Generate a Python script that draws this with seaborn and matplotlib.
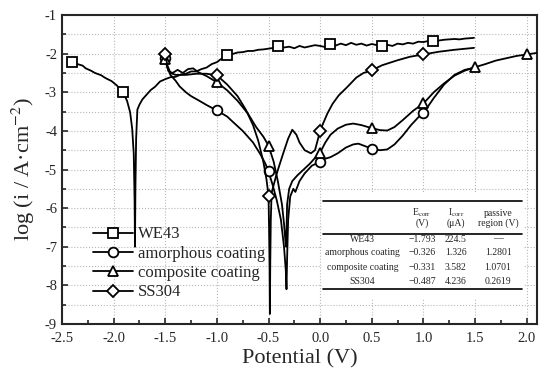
import matplotlib
matplotlib.use("Agg")
import matplotlib.pyplot as plt
import seaborn as sns
import pandas as pd
from matplotlib.ticker import MultipleLocator
from matplotlib.patches import Rectangle

# polarization curves, potential (V) vs log current density
we43_x = [-2.40, -2.35, -2.30, -2.27, -2.22, -2.18, -2.12, -2.08, -2.02, -1.97,
          -1.91, -1.87, -1.84, -1.82, -1.805, -1.797, -1.793, -1.789, -1.782, -1.77,
          -1.75, -1.72, -1.68, -1.64, -1.60, -1.55, -1.50, -1.45, -1.40, -1.35,
          -1.30, -1.25, -1.20, -1.15, -1.10, -1.05, -1.00, -0.95, -0.90, -0.85,
          -0.80, -0.75, -0.70, -0.65, -0.60, -0.55, -0.50, -0.45, -0.41, -0.35,
          -0.30, -0.25, -0.20, -0.15, -0.10, -0.05, 0.00, 0.05, 0.10, 0.15,
          0.20, 0.25, 0.30, 0.35, 0.40, 0.45, 0.50, 0.55, 0.60, 0.65,
          0.70, 0.75, 0.80, 0.85, 0.90, 0.95, 1.00, 1.05, 1.09, 1.15,
          1.20, 1.25, 1.30, 1.35, 1.40, 1.45, 1.49]
we43_y = [-2.22, -2.27, -2.31, -2.38, -2.44, -2.50, -2.56, -2.63, -2.71, -2.82,
          -3.00, -3.22, -3.52, -3.95, -4.60, -5.80, -7.00, -5.50, -4.20, -3.45,
          -3.32, -3.18, -3.06, -2.94, -2.86, -2.72, -2.66, -2.61, -2.60, -2.54,
          -2.52, -2.46, -2.46, -2.40, -2.36, -2.27, -2.22, -2.12, -2.04, -2.01,
          -1.97, -1.96, -1.93, -1.93, -1.90, -1.89, -1.87, -1.85, -1.80, -1.84,
          -1.82, -1.86, -1.80, -1.84, -1.81, -1.78, -1.80, -1.83, -1.76, -1.79,
          -1.74, -1.78, -1.72, -1.77, -1.74, -1.79, -1.75, -1.78, -1.80, -1.77,
          -1.80, -1.74, -1.76, -1.72, -1.74, -1.69, -1.70, -1.67, -1.67, -1.66,
          -1.64, -1.63, -1.62, -1.63, -1.61, -1.60, -1.59]
we43_marks = [0, 10, 38, 48, 58, 68, 78]

amor_x = [-1.50, -1.48, -1.45, -1.40, -1.36, -1.30, -1.25, -1.17, -1.10, -1.00,
          -0.90, -0.84, -0.75, -0.65, -0.58, -0.53, -0.50, -0.46, -0.42, -0.38,
          -0.35, -0.333, -0.326, -0.32, -0.31, -0.29, -0.26, -0.24, -0.20, -0.15,
          -0.08, 0.00, 0.05, 0.10, 0.17, 0.25, 0.32, 0.37, 0.42, 0.50,
          0.58, 0.65, 0.72, 0.80, 0.88, 0.95, 1.00, 1.10, 1.20, 1.30,
          1.40, 1.50]
amor_y = [-2.10, -2.35, -2.55, -2.70, -2.85, -3.00, -3.10, -3.22, -3.33, -3.47,
          -3.63, -3.78, -4.00, -4.30, -4.60, -4.85, -5.05, -5.40, -5.80, -6.30,
          -7.00, -7.60, -8.10, -7.30, -6.30, -5.70, -5.50, -5.58, -5.30, -5.10,
          -4.90, -4.80, -4.72, -4.68, -4.58, -4.43, -4.35, -4.33, -4.38, -4.46,
          -4.50, -4.48, -4.35, -4.12, -3.85, -3.65, -3.54, -3.15, -2.80, -2.55,
          -2.42, -2.36]
amor_marks = [0, 9, 16, 31, 39, 46]

comp_x = [-1.50, -1.47, -1.43, -1.38, -1.33, -1.28, -1.23, -1.18, -1.10, -1.00,
          -0.90, -0.80, -0.70, -0.62, -0.55, -0.50, -0.45, -0.41, -0.37, -0.35,
          -0.338, -0.331, -0.325, -0.32, -0.30, -0.27, -0.22, -0.16, -0.10, -0.05,
          0.00, 0.05, 0.10, 0.17, 0.25, 0.32, 0.40, 0.50, 0.58, 0.65,
          0.72, 0.80, 0.90, 1.00, 1.10, 1.20, 1.30, 1.40, 1.50, 1.60,
          1.70, 1.80, 1.90, 2.00, 2.10]
comp_y = [-2.15, -2.45, -2.50, -2.42, -2.50, -2.40, -2.38, -2.48, -2.58, -2.74,
          -2.95, -3.22, -3.55, -3.90, -4.15, -4.38, -4.80, -5.30, -5.90, -6.40,
          -6.80, -7.00, -6.50, -5.90, -5.50, -5.30, -5.15, -5.00, -4.85, -4.70,
          -4.56, -4.30, -4.10, -3.94, -3.84, -3.81, -3.85, -3.93, -3.98, -3.99,
          -3.90, -3.72, -3.48, -3.29, -3.00, -2.77, -2.57, -2.44, -2.35, -2.27,
          -2.18, -2.12, -2.06, -2.02, -1.98]
comp_marks = [0, 9, 15, 30, 37, 43, 48, 53]

ss_x = [-1.50, -1.48, -1.45, -1.40, -1.30, -1.20, -1.10, -1.00, -0.90, -0.80,
        -0.72, -0.65, -0.60, -0.55, -0.52, -0.50, -0.495, -0.49, -0.487, -0.483,
        -0.478, -0.47, -0.42, -0.36, -0.31, -0.27, -0.23, -0.20, -0.15, -0.09,
        -0.05, -0.02, 0.00, 0.03, 0.07, 0.12, 0.18, 0.26, 0.35, 0.42,
        0.50, 0.60, 0.75, 0.87, 1.00, 1.15, 1.30, 1.49]
ss_y = [-2.00, -2.30, -2.50, -2.55, -2.55, -2.52, -2.52, -2.56, -2.80, -3.10,
        -3.45, -3.85, -4.25, -4.80, -5.25, -5.68, -6.50, -7.50, -8.74, -7.40,
        -6.30, -5.60, -5.10, -4.60, -4.20, -3.97, -4.10, -4.30, -4.50, -4.58,
        -4.50, -4.20, -3.99, -3.80, -3.55, -3.30, -3.08, -2.87, -2.62, -2.50,
        -2.43, -2.30, -2.17, -2.08, -2.02, -1.95, -1.90, -1.85]
ss_marks = [0, 7, 15, 32, 40, 44]

# inset table
tbl_names = ["WE43", "amorphous coating", "composite coating", "SS304"]
tbl_ecorr = ["\u22121.793", "\u22120.326", "\u22120.331", "\u22120.487"]
tbl_icorr = ["224.5", "1.326", "3.582", "4.236"]
tbl_passive = ["\u2014", "1.2801", "1.0701", "0.2619"]

sns.set_style("ticks")
plt.rcParams["font.family"] = ["Liberation Serif", "DejaVu Serif"]
plt.rcParams["mathtext.fontset"] = "stix"
plt.rcParams["axes.unicode_minus"] = False

fig = plt.figure(figsize=(5.5, 3.76), dpi=100)
ax = fig.add_axes([0.1127, 0.1383, 0.8637, 0.8217])

series = [
    ("WE43", we43_x, we43_y, "s", we43_marks),
    ("amorphous coating", amor_x, amor_y, "o", amor_marks),
    ("composite coating", comp_x, comp_y, "^", comp_marks),
    ("SS304", ss_x, ss_y, "D", ss_marks),
]
for name, xs, ys, mk, marks in series:
    df = pd.DataFrame({"E": xs, "logi": ys})
    ms = 6 if mk == "D" else 7
    sns.lineplot(data=df, x="E", y="logi", sort=False, estimator=None, ax=ax,
                 color="black", lw=1.3, marker=mk, markevery=marks, ms=ms,
                 mfc="white", mec="black", mew=1.3, label=name, zorder=3)

ax.set_xlim(-2.5, 2.1)
ax.set_ylim(-9, -1)
ax.xaxis.set_major_locator(MultipleLocator(0.5))
ax.xaxis.set_minor_locator(MultipleLocator(0.25))
ax.yaxis.set_major_locator(MultipleLocator(1))
ax.yaxis.set_minor_locator(MultipleLocator(0.5))
ax.xaxis.set_major_formatter(plt.FuncFormatter(lambda v, p: f"{v:.1f}"))
ax.yaxis.set_major_formatter(plt.FuncFormatter(lambda v, p: f"{v:.0f}"))
ax.tick_params(which="both", direction="in", labelsize=10.5, width=1.2)
ax.tick_params(which="major", length=4)
ax.tick_params(which="minor", length=3)
ax.tick_params(axis="x", which="major", pad=6)
ax.xaxis.grid(True, which="major", ls=":", color="#b8b8b8", lw=0.8)
ax.yaxis.grid(True, which="both", ls=":", color="#b8b8b8", lw=0.8)
for s in ax.spines.values():
    s.set_linewidth(1.5)

ax.set_xlabel("Potential (V)", fontsize=16, labelpad=3)
ax.set_ylabel("log (i / A\u00b7cm$^{-2}$)", fontsize=16, labelpad=6)

leg = ax.legend(loc="upper left", bbox_to_anchor=(0.066, 0.316), frameon=False,
                fontsize=12, handlelength=2.35, handletextpad=0.3,
                labelspacing=0.2, borderpad=0, borderaxespad=0)

# table
ax.add_patch(Rectangle((0.547, 0.084), 0.426, 0.343, transform=ax.transAxes,
                       facecolor="white", edgecolor="none", zorder=2))
for yy in [0.398, 0.291, 0.113]:
    ax.plot([0.549, 0.968], [yy, yy], transform=ax.transAxes, color="black",
            lw=1.2, zorder=4)
cols = [0.633, 0.758, 0.829, 0.918]
tk = dict(transform=ax.transAxes, ha="center", va="center", fontsize=7, zorder=4)
ax.text(cols[1], 0.359, "E$_{\\rm corr}$", **tk)
ax.text(cols[2], 0.359, "I$_{\\rm corr}$", **tk)
ax.text(cols[3], 0.359, "passive", **tk)
ax.text(cols[1], 0.327, "(V)", **tk)
ax.text(cols[2], 0.327, "(\u03bcA)", **tk)
ax.text(cols[3], 0.327, "region (V)", **tk)
rows_y = [0.275, 0.230, 0.184, 0.139]
for i, yy in enumerate(rows_y):
    ax.text(cols[0], yy, tbl_names[i], **tk)
    ax.text(cols[1], yy, tbl_ecorr[i], **tk)
    ax.text(cols[2], yy, tbl_icorr[i], **tk)
    ax.text(cols[3], yy, tbl_passive[i], **tk)

fig.savefig("out.png", dpi=100)
